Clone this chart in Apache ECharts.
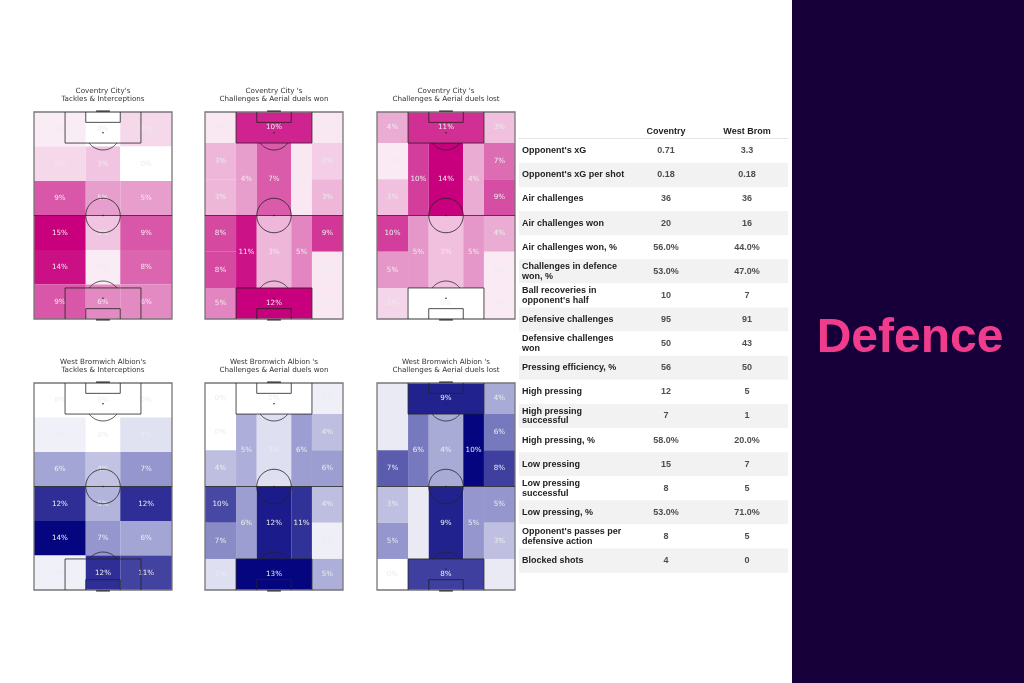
<!DOCTYPE html>
<html>
<head>
<meta charset="utf-8">
<title>Defence - Coventry City vs West Bromwich Albion</title>
<script src="https://cdn.jsdelivr.net/npm/echarts@6/dist/echarts.min.js"></script>
<style>
  html, body { margin: 0; padding: 0; background: #fff; }
  #main { width: 1024px; height: 683px; }
</style>
</head>
<body>
<div id="main"></div>
<script>
// pitch is 80 wide x 120 long, drawn vertically
var tackleCols = [0, 30, 50, 80];
var tackleRows = [0, 20, 40, 60, 80, 100, 120];
// positional zones [x0, x1, y0, y1]
var duelZones = [
  [0, 18, 0, 18], [18, 62, 0, 18], [62, 80, 0, 18],
  [0, 18, 18, 39], [0, 18, 39, 60],
  [18, 30, 18, 60], [30, 50, 18, 60], [50, 62, 18, 60],
  [62, 80, 18, 39], [62, 80, 39, 60],
  [0, 18, 60, 81], [0, 18, 81, 102],
  [18, 30, 60, 102], [30, 50, 60, 102], [50, 62, 60, 102],
  [62, 80, 60, 81], [62, 80, 81, 102],
  [0, 18, 102, 120], [18, 62, 102, 120], [62, 80, 102, 120]
];

// values in %, tackles: row by row (left, centre, right)
var covTackles = [1, 0, 2, 2, 3, 0, 9, 5, 5, 15, 3, 9, 14, 1, 8, 9, 6, 6];
var wbaTackles = [0, 0, 0, 1, 0, 2, 6, 4, 7, 12, 5, 12, 14, 7, 6, 1, 12, 11];
// duels, in duelZones order
var covDuelsWon  = [1, 10, 1, 3, 3, 4, 7, 1, 2, 3, 8, 8, 11, 3, 5, 9, 1, 5, 12, 1];
var covDuelsLost = [4, 11, 3, 1, 3, 10, 14, 4, 7, 9, 10, 5, 5, 3, 5, 4, 1, 2, 0, 1];
var wbaDuelsWon  = [0, 0, 1, 0, 4, 5, 2, 6, 4, 6, 10, 7, 6, 12, 11, 4, 1, 2, 13, 5];
var wbaDuelsLost = [1, 9, 4, 1, 7, 6, 4, 10, 6, 8, 3, 5, 1, 9, 5, 5, 3, 0, 8, 1];

var metrics = [
  "Opponent's xG", "Opponent's xG per shot", "Air challenges", "Air challenges won",
  "Air challenges won, %", "Challenges in defence\nwon, %", "Ball recoveries in\nopponent's half",
  "Defensive challenges", "Defensive challenges\nwon", "Pressing efficiency, %", "High pressing",
  "High pressing\nsuccessful", "High pressing, %", "Low pressing", "Low pressing\nsuccessful",
  "Low pressing, %", "Opponent's passes per\ndefensive action", "Blocked shots"
];
var teams = ['Coventry', 'West Brom'];
var coventryStats = ['0.71', '0.18', '36', '20', '56.0%', '53.0%', '10', '95', '50', '56', '12', '7', '58.0%', '15', '8', '53.0%', '8', '4'];
var westBromStats = ['3.3', '0.18', '36', '16', '44.0%', '47.0%', '7', '91', '43', '50', '5', '1', '20.0%', '7', '5', '71.0%', '5', '0'];

var pinkScale = ['#ffffff', '#dc6db3', '#c8007d'];
var blueScale = ['#ffffff', '#9496cd', '#050580'];

var tackleZones = [];
for (var r = 0; r < tackleRows.length - 1; r++) {
  for (var c = 0; c < tackleCols.length - 1; c++) {
    tackleZones.push([tackleCols[c], tackleCols[c + 1], tackleRows[r], tackleRows[r + 1]]);
  }
}

var PW = 138, PH = 207;
var panels = [
  { title: "Coventry City's\nTackles & Interceptions", zones: tackleZones, values: covTackles, scale: pinkScale, left: 34, top: 112 },
  { title: "Coventry City 's\nChallenges & Aerial duels won", zones: duelZones, values: covDuelsWon, scale: pinkScale, left: 205, top: 112 },
  { title: "Coventry City 's\nChallenges & Aerial duels lost", zones: duelZones, values: covDuelsLost, scale: pinkScale, left: 377, top: 112 },
  { title: "West Bromwich Albion's\nTackles & Interceptions", zones: tackleZones, values: wbaTackles, scale: blueScale, left: 34, top: 383 },
  { title: "West Bromwich Albion 's\nChallenges & Aerial duels won", zones: duelZones, values: wbaDuelsWon, scale: blueScale, left: 205, top: 383 },
  { title: "West Bromwich Albion 's\nChallenges & Aerial duels lost", zones: duelZones, values: wbaDuelsLost, scale: blueScale, left: 377, top: 383 }
];

function renderCell(params, api) {
  var p0 = api.coord([api.value(0), api.value(2)]);
  var p1 = api.coord([api.value(1), api.value(3)]);
  return {
    type: 'rect',
    shape: {
      x: Math.min(p0[0], p1[0]), y: Math.min(p0[1], p1[1]),
      width: Math.abs(p1[0] - p0[0]), height: Math.abs(p1[1] - p0[1])
    },
    style: { fill: api.visual('color') },
    textContent: {
      style: { text: api.value(4) + '%', fill: '#ececec', fontSize: 7.2, fontFamily: 'DejaVu Sans' }
    },
    textConfig: { position: 'inside' }
  };
}

// points of a circle arc in pitch units, angles in radians
function arcPts(cx, cy, rad, a0, a1) {
  var pts = [];
  for (var k = 0; k <= 40; k++) {
    var t = a0 + (a1 - a0) * k / 40;
    pts.push([cx + rad * Math.cos(t), cy + rad * Math.sin(t)]);
  }
  return pts;
}

function renderPitch(params, api) {
  var ink = { stroke: '#222', lineWidth: 0.8, fill: null };
  function pl(pts) {
    return { type: 'polyline', shape: { points: pts.map(function (p) { return api.coord(p); }) }, style: ink };
  }
  function dot(p) {
    var q = api.coord(p);
    return { type: 'circle', shape: { cx: q[0], cy: q[1], r: 0.8 }, style: { fill: '#222' } };
  }
  var a = Math.asin(0.6);
  var tl = api.coord([0, 0]), br = api.coord([80, 120]);
  var g0 = api.coord([36, 0]), g1 = api.coord([44, 120]);
  return {
    type: 'group',
    children: [
      { type: 'rect', shape: { x: tl[0], y: tl[1], width: br[0] - tl[0], height: br[1] - tl[1] },
        style: { stroke: '#777', lineWidth: 1.3, fill: null } },
      pl([[0, 60], [80, 60]]),
      pl([[18, 0], [18, 18], [62, 18], [62, 0]]),
      pl([[30, 0], [30, 6], [50, 6], [50, 0]]),
      pl([[18, 120], [18, 102], [62, 102], [62, 120]]),
      pl([[30, 120], [30, 114], [50, 114], [50, 120]]),
      pl(arcPts(40, 60, 10, 0, 2 * Math.PI)),
      pl(arcPts(40, 12, 10, a, Math.PI - a)),
      pl(arcPts(40, 108, 10, Math.PI + a, 2 * Math.PI - a)),
      dot([40, 60]), dot([40, 12]), dot([40, 108]),
      { type: 'rect', shape: { x: g0[0], y: g0[1] - 1.6, width: g1[0] - g0[0], height: 1.6 }, style: { fill: '#444' } },
      { type: 'rect', shape: { x: g0[0], y: g1[1], width: g1[0] - g0[0], height: 1.6 }, style: { fill: '#444' } }
    ]
  };
}

var grids = [], xAxes = [], yAxes = [], series = [], visualMaps = [], titles = [];

panels.forEach(function (p, i) {
  grids.push({ left: p.left, top: p.top, width: PW, height: PH });
  xAxes.push({ type: 'value', gridIndex: i, min: 0, max: 80, show: false });
  yAxes.push({ type: 'value', gridIndex: i, min: 0, max: 120, inverse: true, show: false });
  titles.push({
    text: p.title, left: p.left + PW / 2, top: p.top - 25.5, textAlign: 'center', padding: 0,
    textStyle: { fontSize: 7.2, fontWeight: 'normal', color: '#333', lineHeight: 8.5, fontFamily: 'DejaVu Sans' }
  });
  series.push({
    type: 'custom', xAxisIndex: i, yAxisIndex: i, renderItem: renderCell, z: 2,
    data: p.zones.map(function (zn, k) { return zn.concat([p.values[k]]); })
  });
  visualMaps.push({
    type: 'continuous', show: false, seriesIndex: i, dimension: 4,
    min: 0, max: Math.max.apply(null, p.values), inRange: { color: p.scale }
  });
});
panels.forEach(function (p, i) {
  series.push({ type: 'custom', xAxisIndex: i, yAxisIndex: i, renderItem: renderPitch, z: 3, data: [[0]], silent: true });
});

// stats table: stripes + row names
var tblTop = 138.7, tblH = 434;
grids.push({ left: 519, top: tblTop, width: 269, height: tblH });
xAxes.push({ type: 'value', gridIndex: 6, position: 'top', min: 0, max: 1,
  axisLine: { show: true, lineStyle: { color: '#e4e4e4', width: 1 } },
  axisTick: { show: false }, axisLabel: { show: false }, splitLine: { show: false } });
yAxes.push({ type: 'category', gridIndex: 6, data: metrics, inverse: true,
  axisLine: { show: false }, axisTick: { show: false },
  axisLabel: { align: 'left', margin: -3, fontSize: 9, fontWeight: 'bold', color: '#222', lineHeight: 9.5, fontFamily: 'Liberation Sans' },
  splitArea: { show: true, areaStyle: { color: ['#ffffff', '#f2f2f2'] } } });
// stats table: values
grids.push({ left: 625.5, top: tblTop, width: 162, height: tblH });
xAxes.push({ type: 'category', gridIndex: 7, position: 'top', data: teams,
  axisLine: { show: false }, axisTick: { show: false },
  axisLabel: { margin: 3, fontSize: 9, fontWeight: 'bold', color: '#222', fontFamily: 'Liberation Sans' } });
yAxes.push({ type: 'category', gridIndex: 7, data: metrics, inverse: true, show: false });
[coventryStats, westBromStats].forEach(function (vals, t) {
  series.push({
    type: 'scatter', name: teams[t], xAxisIndex: 7, yAxisIndex: 7, symbolSize: 1, silent: true,
    itemStyle: { color: 'rgba(0,0,0,0)' },
    label: { show: true, position: 'inside', formatter: function (q) { return q.value[2]; },
      fontSize: 9, fontWeight: 'bold', color: '#222', fontFamily: 'Liberation Sans' },
    data: vals.map(function (v, k) { return [teams[t], k, v]; })
  });
});

var chart = echarts.init(document.getElementById('main'), null, { renderer: 'canvas' });
chart.setOption({
  backgroundColor: '#ffffff',
  animation: false,
  title: titles,
  grid: grids,
  xAxis: xAxes,
  yAxis: yAxes,
  visualMap: visualMaps,
  series: series,
  graphic: [
    { type: 'rect', left: 792, top: 0, shape: { width: 232, height: 683 }, style: { fill: '#17003a' }, z: -1 },
    { type: 'text', x: 910, y: 339, style: { text: 'Defence', fill: '#f03c8c', fontSize: 48, fontWeight: 'bold',
      fontFamily: 'Liberation Sans', align: 'center', verticalAlign: 'middle' } }
  ]
});
</script>
</body>
</html>
